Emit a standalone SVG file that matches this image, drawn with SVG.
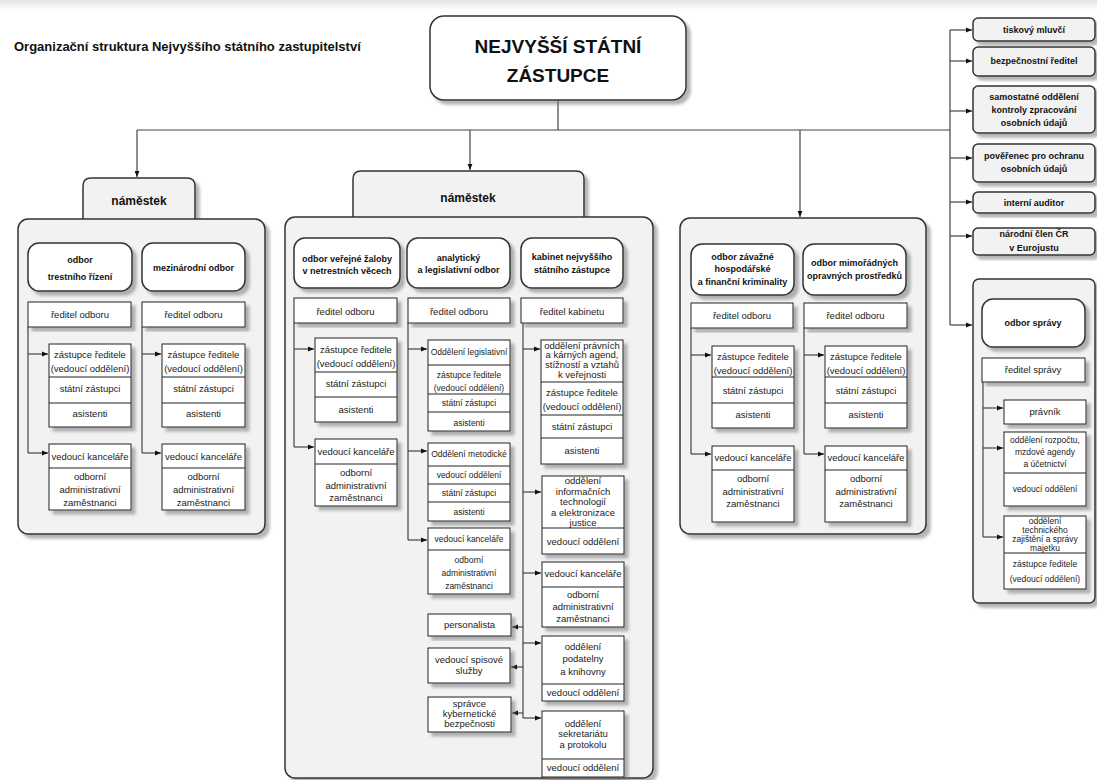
<svg xmlns="http://www.w3.org/2000/svg" width="1097" height="780" viewBox="0 0 1097 780">
<defs>
<filter id="sh" x="-10%" y="-10%" width="130%" height="130%"><feDropShadow dx="4" dy="4" stdDeviation="1.5" flood-color="#777" flood-opacity="0.55"/></filter>
<marker id="ar" viewBox="0 0 10 10" refX="10" refY="5" markerWidth="6" markerHeight="6" markerUnits="userSpaceOnUse" orient="auto"><path d="M0,1 L10,5 L0,9z" fill="#111"/></marker>
<linearGradient id="tb" x1="0" y1="0" x2="0" y2="1"><stop offset="0" stop-color="#e4e4e4"/><stop offset="1" stop-color="#ffffff"/></linearGradient>
</defs>
<style>
.pn{fill:#f2f2f2;stroke:#333;stroke-width:1.5}
.hd{fill:#fff;stroke:#333;stroke-width:1.5}
.bx{fill:#fff;stroke:#222;stroke-width:1}
.dv{stroke:#222;stroke-width:1}
.sh{filter:url(#sh)}
.ln{stroke:#444;stroke-width:1.2;fill:none}
.ar{marker-end:url(#ar)}
text{font-family:"Liberation Sans",Arial,sans-serif;font-size:9.5px;fill:#222;text-anchor:middle}
.b{font-weight:bold;font-size:9px;fill:#111}
.s{font-size:8.5px}
.big{font-weight:bold;font-size:19px;fill:#111}
.nm{font-weight:bold;font-size:12px;fill:#111}
.ttl{font-weight:bold;font-size:13px;fill:#111;text-anchor:start}
</style>
<rect x="0" y="0" width="1097" height="10" fill="url(#tb)"/>
<text class="ttl" x="14" y="51">Organizační struktura Nejvyššího státního zastupitelství</text>

<g id="panels">
<g id="panel-1-bg">
<path class="pn sh" d="M83,219 V186 Q83,178 91,178 H187 Q195,178 195,186 V219"/>
<rect class="pn sh" x="18" y="219" width="247" height="315" rx="10"/>
<text class="nm" x="139" y="205">náměstek</text>
</g>
<g id="panel-2-bg">
<path class="pn sh" d="M353,217 V179 Q353,171 361,171 H576 Q584,171 584,179 V217"/>
<rect class="pn sh" x="285" y="217" width="368" height="561" rx="10"/>
<text class="nm" x="468" y="202">náměstek</text>
</g>
<g id="panel-3-bg">
<rect class="pn sh" x="680" y="218" width="246" height="316" rx="10"/>
</g>
<g id="panel-spravy-bg">
<rect class="pn sh" x="973" y="279" width="122" height="324" rx="6"/>
</g>
</g>

<g id="connectors">
<path class="ln" d="M558,100 V130 M137,130 H950 M950,30 V325"/>
<path class="ln ar" d="M137,130 V177"/>
<path class="ln ar" d="M470,130 V170"/>
<path class="ln ar" d="M800,130 V217"/>
<path class="ln ar" d="M950,30 H972"/>
<path class="ln ar" d="M950,61 H972"/>
<path class="ln ar" d="M950,111 H972"/>
<path class="ln ar" d="M950,158 H972"/>
<path class="ln ar" d="M950,202 H972"/>
<path class="ln ar" d="M950,236 H972"/>
<path class="ln ar" d="M950,325 H972"/>
<path class="ln" d="M28,327 V453 M142,327 V453"/>
<path class="ln ar" d="M28,354 H48"/>
<path class="ln ar" d="M28,453 H48"/>
<path class="ln ar" d="M142,354 H161"/>
<path class="ln ar" d="M142,453 H161"/>
<path class="ln" d="M294,323 V447 M408,323 V540 M523,323 V718"/>
<path class="ln ar" d="M294,349 H314"/>
<path class="ln ar" d="M294,447 H314"/>
<path class="ln ar" d="M408,349 H427"/>
<path class="ln ar" d="M408,451 H427"/>
<path class="ln ar" d="M408,540 H427"/>
<path class="ln ar" d="M523,349 H540"/>
<path class="ln ar" d="M523,492 H541"/>
<path class="ln ar" d="M523,573 H541"/>
<path class="ln ar" d="M523,643 H541"/>
<path class="ln ar" d="M523,718 H541"/>
<path class="ln ar" d="M523,627 H512"/>
<path class="ln ar" d="M523,667 H511"/>
<path class="ln ar" d="M523,713 H512"/>
<path class="ln" d="M691,328 V454 M804,328 V454"/>
<path class="ln ar" d="M691,355 H711"/>
<path class="ln ar" d="M691,454 H711"/>
<path class="ln ar" d="M804,355 H824"/>
<path class="ln ar" d="M804,454 H824"/>
<path class="ln" d="M983,382 V537"/>
<path class="ln ar" d="M983,408 H1003"/>
<path class="ln ar" d="M983,448 H1003"/>
<path class="ln ar" d="M983,537 H1003"/>
</g>

<g id="top-node">
<rect class="hd sh" x="430" y="16" width="256" height="84" rx="14"/>
<text class="big" x="558" y="53">NEJVYŠŠÍ STÁTNÍ</text>
<text class="big" x="558" y="82">ZÁSTUPCE</text>
</g>

<g id="right-column">
<g id="tiskovy"><rect class="pn sh" x="973" y="18" width="122" height="23" rx="5"/><text class="b" x="1034" y="33">tiskový mluvčí</text></g>
<g id="bezpecnostni"><rect class="pn sh" x="973" y="47" width="122" height="29" rx="5"/><text class="b" x="1034" y="64">bezpečnostní ředitel</text></g>
<g id="samostatne"><rect class="pn sh" x="973" y="86" width="122" height="47" rx="5"/><text class="b" x="1034" y="100">samostatné oddělení</text><text class="b" x="1034" y="113">kontroly zpracování</text><text class="b" x="1034" y="126">osobních údajů</text></g>
<g id="poverenec"><rect class="pn sh" x="973" y="144" width="122" height="38" rx="5"/><text class="b" x="1034" y="159">pověřenec pro ochranu</text><text class="b" x="1034" y="172">osobních údajů</text></g>
<g id="auditor"><rect class="pn sh" x="973" y="192" width="122" height="21" rx="5"/><text class="b" x="1034" y="206">interní auditor</text></g>
<g id="eurojust"><rect class="pn sh" x="973" y="228" width="122" height="27" rx="5"/><text class="b" x="1034" y="237">národní člen ČR</text><text class="b" x="1034" y="251">v Eurojustu</text></g>
</g>

<g id="odbor-spravy">
<rect class="hd sh" x="982" y="299" width="103" height="48" rx="11"/>
<text class="b" x="1033" y="326">odbor správy</text>
<rect class="bx sh" x="982" y="358" width="103" height="24"/>
<text x="1033" y="373">ředitel správy</text>
<rect class="bx sh" x="1004" y="400" width="82" height="24"/>
<text x="1045" y="415">právník</text>
<rect class="bx sh" x="1004" y="432" width="82" height="74"/>
<line class="dv" x1="1004" y1="473" x2="1086" y2="473"/>
<text class="s" x="1045" y="443">oddělení rozpočtu,</text>
<text class="s" x="1045" y="455">mzdové agendy</text>
<text class="s" x="1045" y="467">a účetnictví</text>
<text class="s" x="1045" y="492">vedoucí oddělení</text>
<rect class="bx sh" x="1004" y="516" width="82" height="73"/>
<line class="dv" x1="1004" y1="553" x2="1086" y2="553"/>
<text class="s" x="1045" y="524">oddělení</text>
<text class="s" x="1045" y="533">technického</text>
<text class="s" x="1045" y="542">zajištění a správy</text>
<text class="s" x="1045" y="551">majetku</text>
<text class="s" x="1045" y="567">zástupce ředitele</text>
<text class="s" x="1045" y="582">(vedoucí oddělení)</text>
</g>

<g id="p1-trestni">
<rect class="hd sh" x="28" y="243" width="104" height="48" rx="11"/>
<text class="b" x="80" y="263">odbor</text>
<text class="b" x="80" y="280">trestního řízení</text>
<rect class="bx sh" x="28" y="302" width="103" height="25"/>
<text x="80" y="318">ředitel odboru</text>
<rect class="bx sh" x="49" y="344" width="82" height="83"/>
<line class="dv" x1="49" y1="377" x2="131" y2="377"/><line class="dv" x1="49" y1="403" x2="131" y2="403"/>
<text x="90" y="358">zástupce ředitele</text>
<text x="90" y="372">(vedoucí oddělení)</text>
<text x="90" y="392">státní zástupci</text>
<text x="90" y="417">asistenti</text>
<rect class="bx sh" x="49" y="444" width="82" height="66"/>
<line class="dv" x1="49" y1="468" x2="131" y2="468"/>
<text x="90" y="460">vedoucí kanceláře</text>
<text x="90" y="480">odborní</text>
<text x="90" y="493">administrativní</text>
<text x="90" y="506">zaměstnanci</text>
</g>
<g id="p1-mezinarodni">
<rect class="hd sh" x="142" y="243" width="103" height="48" rx="11"/>
<text class="b" x="193.5" y="271">mezinárodní odbor</text>
<rect class="bx sh" x="142" y="302" width="103" height="25"/>
<text x="193.5" y="318">ředitel odboru</text>
<rect class="bx sh" x="162" y="344" width="83" height="83"/>
<line class="dv" x1="162" y1="377" x2="245" y2="377"/><line class="dv" x1="162" y1="403" x2="245" y2="403"/>
<text x="203.5" y="358">zástupce ředitele</text>
<text x="203.5" y="372">(vedoucí oddělení)</text>
<text x="203.5" y="392">státní zástupci</text>
<text x="203.5" y="417">asistenti</text>
<rect class="bx sh" x="162" y="444" width="83" height="66"/>
<line class="dv" x1="162" y1="468" x2="245" y2="468"/>
<text x="203.5" y="460">vedoucí kanceláře</text>
<text x="203.5" y="480">odborní</text>
<text x="203.5" y="493">administrativní</text>
<text x="203.5" y="506">zaměstnanci</text>
</g>

<g id="p2-netrestni">
<rect class="hd sh" x="294" y="238" width="106" height="50" rx="11"/>
<text class="b" x="347" y="262">odbor veřejné žaloby</text>
<text class="b" x="347" y="274">v netrestních věcech</text>
<rect class="bx sh" x="294" y="298" width="103" height="25"/>
<text x="345.5" y="315">ředitel odboru</text>
<rect class="bx sh" x="315" y="338" width="82" height="84"/>
<line class="dv" x1="315" y1="372" x2="397" y2="372"/><line class="dv" x1="315" y1="397" x2="397" y2="397"/>
<text x="356" y="353">zástupce ředitele</text>
<text x="356" y="367">(vedoucí oddělení)</text>
<text x="356" y="387">státní zástupci</text>
<text x="356" y="413">asistenti</text>
<rect class="bx sh" x="315" y="439" width="82" height="67"/>
<line class="dv" x1="315" y1="464" x2="397" y2="464"/>
<text x="356" y="455">vedoucí kanceláře</text>
<text x="356" y="476">odborní</text>
<text x="356" y="489">administrativní</text>
<text x="356" y="501">zaměstnanci</text>
</g>
<g id="p2-analyticky">
<rect class="hd sh" x="407" y="238" width="103" height="50" rx="11"/>
<text class="b" x="458.5" y="261">analytický</text>
<text class="b" x="458.5" y="273">a legislativní odbor</text>
<rect class="bx sh" x="408" y="298" width="102" height="25"/>
<text x="459" y="315">ředitel odboru</text>
<rect class="bx sh" x="428" y="340" width="82" height="91"/>
<line class="dv" x1="428" y1="365" x2="510" y2="365"/><line class="dv" x1="428" y1="394" x2="510" y2="394"/><line class="dv" x1="428" y1="412" x2="510" y2="412"/>
<text class="s" x="469" y="355">Oddělení legislativní</text>
<text class="s" x="469" y="378">zástupce ředitele</text>
<text class="s" x="469" y="391">(vedoucí oddělení)</text>
<text class="s" x="469" y="406">státní zástupci</text>
<text class="s" x="469" y="426">asistenti</text>
<rect class="bx sh" x="428" y="443" width="82" height="78"/>
<line class="dv" x1="428" y1="466" x2="510" y2="466"/><line class="dv" x1="428" y1="484" x2="510" y2="484"/><line class="dv" x1="428" y1="502" x2="510" y2="502"/>
<text class="s" x="469" y="457">Oddělení metodické</text>
<text class="s" x="469" y="478">vedoucí oddělení</text>
<text class="s" x="469" y="496">státní zástupci</text>
<text class="s" x="469" y="515">asistenti</text>
<rect class="bx sh" x="428" y="528" width="82" height="66"/>
<line class="dv" x1="428" y1="550" x2="510" y2="550"/>
<text class="s" x="469" y="542">vedoucí kanceláře</text>
<text class="s" x="469" y="563">odborní</text>
<text class="s" x="469" y="576">administrativní</text>
<text class="s" x="469" y="589">zaměstnanci</text>
</g>
<g id="p2-kabinet">
<rect class="hd sh" x="521" y="238" width="102" height="50" rx="11"/>
<text class="b" x="572" y="260">kabinet nejvyššího</text>
<text class="b" x="572" y="273">státního zástupce</text>
<rect class="bx sh" x="521" y="298" width="102" height="25"/>
<text x="572" y="315">ředitel kabinetu</text>
<rect class="bx sh" x="541" y="340" width="82" height="124"/>
<line class="dv" x1="541" y1="382" x2="623" y2="382"/><line class="dv" x1="541" y1="415" x2="623" y2="415"/><line class="dv" x1="541" y1="438" x2="623" y2="438"/>
<text x="582" y="349">oddělení právních</text>
<text x="582" y="358">a kárných agend,</text>
<text x="582" y="368">stížností a vztahů</text>
<text x="582" y="378">k  veřejnosti</text>
<text x="582" y="396">zástupce ředitele</text>
<text x="582" y="410">(vedoucí oddělení)</text>
<text x="582" y="430">státní zástupci</text>
<text x="582" y="454">asistenti</text>
<rect class="bx sh" x="542" y="476" width="82" height="78"/>
<line class="dv" x1="542" y1="528" x2="624" y2="528"/>
<text x="583" y="484">oddělení</text>
<text x="583" y="495">informačních</text>
<text x="583" y="505">technologií</text>
<text x="583" y="516">a elektronizace</text>
<text x="583" y="526">justice</text>
<text x="583" y="545">vedoucí oddělení</text>
<rect class="bx sh" x="542" y="562" width="82" height="65"/>
<line class="dv" x1="542" y1="587" x2="624" y2="587"/>
<text x="583" y="577">vedoucí kanceláře</text>
<text x="583" y="598">odborní</text>
<text x="583" y="610">administrativní</text>
<text x="583" y="622">zaměstnanci</text>
<rect class="bx sh" x="542" y="636" width="82" height="65"/>
<line class="dv" x1="542" y1="684" x2="624" y2="684"/>
<text x="583" y="650">oddělení</text>
<text x="583" y="662">podatelny</text>
<text x="583" y="675">a knihovny</text>
<text x="583" y="696">vedoucí oddělení</text>
<rect class="bx sh" x="542" y="711" width="82" height="66"/>
<line class="dv" x1="542" y1="759" x2="624" y2="759"/>
<text x="583" y="727">oddělení</text>
<text x="583" y="737">sekretariátu</text>
<text x="583" y="748">a protokolu</text>
<text x="583" y="771">vedoucí oddělení</text>
</g>
<g id="p2-personalista"><rect class="bx sh" x="428" y="614" width="83" height="22"/><text x="469.5" y="628">personalista</text></g>
<g id="p2-spisova"><rect class="bx sh" x="428" y="648" width="82" height="35"/><text x="469" y="663">vedoucí spisové</text><text x="469" y="674">služby</text></g>
<g id="p2-kyber"><rect class="bx sh" x="428" y="697" width="83" height="35"/><text x="469.5" y="707">správce</text><text x="469.5" y="717">kybernetické</text><text x="469.5" y="727">bezpečnosti</text></g>

<g id="p3-zavazne">
<rect class="hd sh" x="691" y="244" width="103" height="51" rx="11"/>
<text class="b" x="742.5" y="260">odbor závažné</text>
<text class="b" x="742.5" y="272">hospodářské</text>
<text class="b" x="742.5" y="285">a finanční kriminality</text>
<rect class="bx sh" x="691" y="303" width="102" height="25"/>
<text x="742" y="319">ředitel odboru</text>
<rect class="bx sh" x="712" y="346" width="82" height="82"/>
<line class="dv" x1="712" y1="377" x2="794" y2="377"/><line class="dv" x1="712" y1="403" x2="794" y2="403"/>
<text x="753" y="360">zástupce ředitele</text>
<text x="753" y="374">(vedoucí oddělení)</text>
<text x="753" y="394">státní zástupci</text>
<text x="753" y="418">asistenti</text>
<rect class="bx sh" x="712" y="446" width="82" height="76"/>
<line class="dv" x1="712" y1="470" x2="794" y2="470"/>
<text x="753" y="461">vedoucí kanceláře</text>
<text x="753" y="482">odborní</text>
<text x="753" y="495">administrativní</text>
<text x="753" y="507">zaměstnanci</text>
</g>
<g id="p3-mimoradne">
<rect class="hd sh" x="803" y="244" width="103" height="51" rx="11"/>
<text class="b" x="854.5" y="266">odbor mimořádných</text>
<text class="b" x="854.5" y="279">opravných prostředků</text>
<rect class="bx sh" x="804" y="303" width="103" height="25"/>
<text x="855.5" y="319">ředitel odboru</text>
<rect class="bx sh" x="825" y="346" width="82" height="82"/>
<line class="dv" x1="825" y1="377" x2="907" y2="377"/><line class="dv" x1="825" y1="403" x2="907" y2="403"/>
<text x="866" y="360">zástupce ředitele</text>
<text x="866" y="374">(vedoucí oddělení)</text>
<text x="866" y="394">státní zástupci</text>
<text x="866" y="418">asistenti</text>
<rect class="bx sh" x="825" y="446" width="82" height="76"/>
<line class="dv" x1="825" y1="470" x2="907" y2="470"/>
<text x="866" y="461">vedoucí kanceláře</text>
<text x="866" y="482">odborní</text>
<text x="866" y="495">administrativní</text>
<text x="866" y="507">zaměstnanci</text>
</g>
</svg>
